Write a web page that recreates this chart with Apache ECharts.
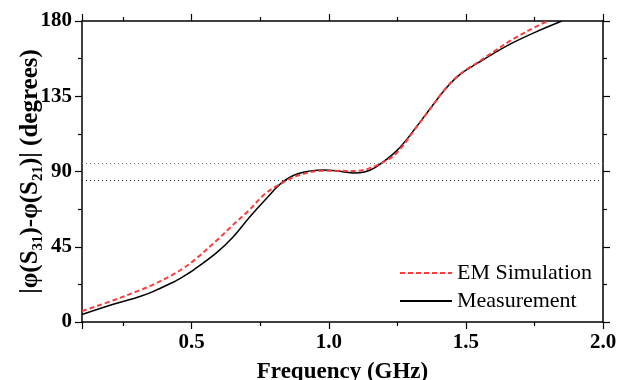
<!DOCTYPE html>
<html>
<head>
<meta charset="utf-8">
<script src="https://cdn.jsdelivr.net/npm/echarts@6/dist/echarts.min.js"></script>
<style>html,body{margin:0;padding:0;background:#fff}#c{width:619px;height:380px}</style>
</head>
<body>
<div id="c"></div>
<script>
const measFreq = [0.10,0.22,0.30,0.35,0.43,0.47,0.51,0.59,0.65,0.71,0.77,0.83,0.89,0.98,1.05,1.09,1.13,1.17,1.25,1.32,1.37,1.43,1.48,1.55,1.60,1.67,1.76,1.85];
const measVal  = [4.5,10.9,14.7,17.6,23.6,27.3,31.5,41.3,50.7,62.5,73.4,83.5,88.8,90.9,89.9,89.1,89.7,92.5,102.8,116.8,127.7,140.2,148.2,155.5,160.5,166.9,173.8,180];
const simFreq  = [0.10,0.22,0.30,0.35,0.43,0.47,0.51,0.59,0.65,0.71,0.77,0.83,0.89,0.98,1.05,1.09,1.13,1.20,1.25,1.32,1.37,1.43,1.48,1.55,1.60,1.67,1.76,1.80];
const simVal   = [6.5,13.3,18.3,21.6,28.2,32.2,37,48.6,58,67,77,83.1,87.8,90.4,90.4,90.3,91,95.6,101.5,116.5,127.5,140.5,148.5,156,161.5,169,177,180];
const refLines = [95, 85];
const seriesNames = ['EM Simulation', 'Measurement'];
const xName = 'Frequency (GHz)';
const yTicks = [0, 45, 90, 135, 180];

const serif = 'Liberation Serif';
const chart = echarts.init(document.getElementById('c'), null, {renderer: 'canvas'});
const axisLine = {show: true, onZero: false, lineStyle: {color: '#000', width: 1.5}};
const tickStyle = {color: '#000', width: 1.2};
const xCommon = {
  type: 'value', min: 0.1, max: 2.0, minInterval: 0.5, maxInterval: 0.5,
  axisLine: axisLine, splitLine: {show: false},
  axisTick: {show: true, inside: false, length: 7, lineStyle: tickStyle},
  minorTick: {show: true, splitNumber: 2, length: 4, lineStyle: tickStyle}
};
const yCommon = {
  type: 'value', min: 0, max: 180, interval: 45,
  axisLine: axisLine, splitLine: {show: false},
  axisTick: {show: true, inside: false, length: 7, lineStyle: tickStyle},
  minorTick: {show: true, splitNumber: 2, length: 4, lineStyle: tickStyle}
};
const option = {
  animation: false,
  backgroundColor: '#fff',
  grid: {left: 82, right: 16, top: 21, bottom: 58, containLabel: false, outerBoundsMode: 'none'},
  legend: {
    orient: 'vertical', left: 394, top: 257, itemWidth: 52, itemHeight: 14, itemGap: 6,
    itemStyle: {opacity: 0},
    textStyle: {fontFamily: serif, fontSize: 22, color: '#000'},
    data: seriesNames
  },
  xAxis: [
    Object.assign({}, xCommon, {
      position: 'bottom',
      name: xName, nameLocation: 'middle', nameGap: 39, nameMoveOverlap: false,
      nameTextStyle: {fontFamily: serif, fontSize: 23, fontWeight: 'bold', color: '#000'},
      axisLabel: {show: true, margin: 10, fontFamily: serif, fontSize: 21, fontWeight: 'bold', color: '#000',
        formatter: function (v) { return (Math.abs(v / 0.5 - Math.round(v / 0.5)) < 1e-6) ? v.toFixed(1) : ''; }}
    }),
    Object.assign({}, xCommon, {position: 'top', axisLabel: {show: false}})
  ],
  yAxis: [
    Object.assign({}, yCommon, {
      position: 'left',
      name: '|φ(S{sub|31})-φ(S{sub|21})| (degrees)', nameLocation: 'middle', nameRotate: 90, nameGap: 36, nameMoveOverlap: false,
      nameTextStyle: {fontFamily: serif, fontSize: 25, fontWeight: 'bold', color: '#000', lineHeight: 30,
        rich: {sub: {fontFamily: serif, fontSize: 15, fontWeight: 'bold', color: '#000', lineHeight: 15, verticalAlign: 'bottom'}}},
      axisLabel: {show: true, margin: 10, fontFamily: serif, fontSize: 21, fontWeight: 'bold', color: '#000',
        formatter: function (v) { return yTicks.indexOf(v) >= 0 ? String(v) : ''; }}
    }),
    Object.assign({}, yCommon, {position: 'right', axisLabel: {show: false}})
  ],
  series: [
    {
      name: seriesNames[0], type: 'line', xAxisIndex: 0, yAxisIndex: 0,
      data: simFreq.map((f, i) => [f, simVal[i]]),
      smooth: 0.35, showSymbol: false, symbol: 'none', z: 3,
      lineStyle: {color: '#ff3b3b', width: 2, type: [5, 3]},
      itemStyle: {color: '#ff3b3b'},
      markLine: {
        silent: true, symbol: 'none', label: {show: false},
        data: [
          {yAxis: refLines[0], lineStyle: {color: '#777', width: 1, type: [1, 3]}},
          {yAxis: refLines[1], lineStyle: {color: '#222', width: 1, type: [1, 3]}}
        ]
      }
    },
    {
      name: seriesNames[1], type: 'line', xAxisIndex: 0, yAxisIndex: 0,
      data: measFreq.map((f, i) => [f, measVal[i]]),
      smooth: 0.35, showSymbol: false, symbol: 'none', z: 2,
      lineStyle: {color: '#000', width: 1.5, type: 'solid'},
      itemStyle: {color: '#000'}
    }
  ]
};
chart.setOption(option);
</script>
</body>
</html>
